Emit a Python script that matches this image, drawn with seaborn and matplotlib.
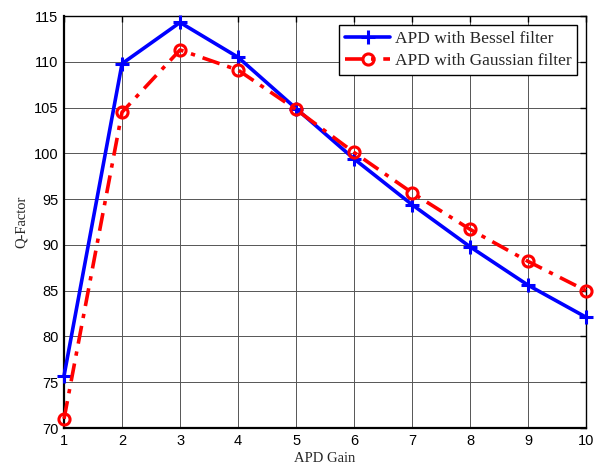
import matplotlib
matplotlib.use("Agg")
import matplotlib.pyplot as plt
import seaborn as sns
import pandas as pd

gain = [1, 2, 3, 4, 5, 6, 7, 8, 9, 10]
bessel = [75.7, 109.8, 114.3, 110.5, 104.9, 99.4, 94.4, 89.8, 85.6, 82.1]
gaussian = [71.0, 104.5, 111.3, 109.1, 104.8, 100.1, 95.7, 91.7, 88.2, 85.0]
xticks = [1, 2, 3, 4, 5, 6, 7, 8, 9, 10]
yticks = [70, 75, 80, 85, 90, 95, 100, 105, 110, 115]

sns.set_style("white")
plt.rcParams['font.family'] = ['Liberation Sans', 'DejaVu Sans']

df = pd.DataFrame({"gain": gain, "bessel": bessel, "gaussian": gaussian})

fig = plt.figure(figsize=(5.95, 4.72), dpi=100)
ax = fig.add_axes([0.1076, 0.0932, 0.8774, 0.8728])

sns.lineplot(data=df, x="gain", y="bessel", ax=ax, color="#0000ff", linewidth=2.6,
             marker="+", markersize=10, markeredgewidth=2.2, markeredgecolor="#0000ff",
             label="APD with Bessel filter", clip_on=False, zorder=3)
sns.lineplot(data=df, x="gain", y="gaussian", ax=ax, color="#ff0000", linewidth=2.6,
             linestyle=(0, (5, 2.2, 1.2, 2.2)),
             marker="o", markersize=8, markeredgewidth=2.2, markerfacecolor="none",
             markeredgecolor="#ff0000", label="APD with Gaussian filter",
             clip_on=False, zorder=3)

ax.set_xlim(1, 10)
ax.set_ylim(70, 115)
ax.set_xticks(xticks)
ax.set_yticks(yticks)
ax.tick_params(direction="in", top=True, right=True, length=4, width=1,
               labelsize=10.5, colors="black", pad=4)
for lab in ax.get_xticklabels() + ax.get_yticklabels():
    lab.set_fontfamily(['Liberation Sans'])
ax.grid(True, color="#555555", linewidth=0.7)
for s in ax.spines.values():
    s.set_color("black")
    s.set_linewidth(1.0)
ax.spines['bottom'].set_linewidth(1.6)
ax.spines['left'].set_linewidth(1.6)

ax.set_xlabel("APD Gain", fontfamily="Liberation Serif", fontsize=10.5, labelpad=3)
ax.set_ylabel("Q-Factor", fontfamily="Liberation Serif", fontsize=10.5, labelpad=4)

leg = ax.legend(loc="upper right", prop={"family": "Liberation Serif", "size": 12.5},
                frameon=True, fancybox=False, edgecolor="black", framealpha=1,
                borderaxespad=0.5, handlelength=2.6, handletextpad=0.25,
                borderpad=0.35, labelspacing=0.35)
leg.get_frame().set_linewidth(1.0)
leg.set_zorder(5)

fig.savefig("out.png", dpi=100)
